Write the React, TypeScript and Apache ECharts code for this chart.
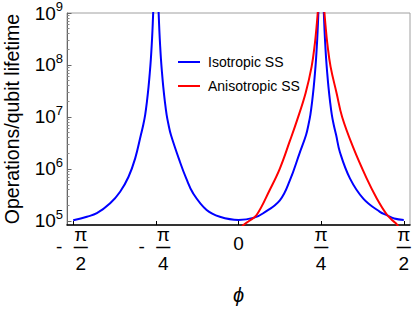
import React, { useEffect, useRef } from "react";
import * as echarts from "echarts";

const Q = Math.PI / 4;
const xTickValues = [-2 * Q, -Q, 0, Q, 2 * Q];
const xTickLabels = ["-π/2", "-π/4", "0", "π/4", "π/2"];
const yTickValues = [1e5, 1e6, 1e7, 1e8, 1e9];
const yTickExponents = ["5", "6", "7", "8", "9"];
const yMinorTickValues: number[] = [];
[1e5, 1e6, 1e7, 1e8].forEach((d) => {
  for (let m = 2; m <= 9; m++) yMinorTickValues.push(d * m);
});

const seriesNames = ["Isotropic SS", "Anisotropic SS"];

// Isotropic SS, three branches separated by the divergences at ±π/4
const isoLeft: [number, number][] = [
  [-1.5708, 1.03e5], [-1.441, 1.21e5], [-1.346, 1.41e5], [-1.22, 2.19e5],
  [-1.125, 3.66e5], [-1.045, 7.1e5], [-0.982, 1.6e6], [-0.928, 4.5e6],
  [-0.905, 7.1e6], [-0.887, 1.1e7], [-0.87, 2.0e7], [-0.855, 3.8e7],
  [-0.843, 7.1e7], [-0.833, 1.3e8], [-0.825, 2.4e8], [-0.818, 4.5e8],
  [-0.812, 8.9e8], [-0.807, 1.6e9], [-0.8, 5e9],
];
const isoCenter: [number, number][] = [
  [-0.77, 5e9], [-0.763, 1.6e9], [-0.758, 8.9e8], [-0.752, 4.5e8],
  [-0.745, 2.4e8], [-0.737, 1.3e8], [-0.727, 7.1e7], [-0.715, 3.8e7],
  [-0.7, 2.0e7], [-0.683, 1.1e7], [-0.665, 7.1e6], [-0.642, 4.5e6],
  [-0.557, 1.38e6], [-0.497, 6.6e5], [-0.431, 3.4e5], [-0.303, 1.63e5],
  [-0.177, 1.21e5], [0, 1.05e5], [0.15, 1.16e5], [0.235, 1.41e5],
  [0.393, 2.5e5], [0.489, 6.1e5], [0.58, 2.0e6], [0.642, 4.5e6],
  [0.665, 7.1e6], [0.683, 1.1e7], [0.7, 2.0e7], [0.715, 3.8e7],
  [0.727, 7.1e7], [0.737, 1.3e8], [0.745, 2.4e8], [0.752, 4.5e8],
  [0.758, 8.9e8], [0.763, 1.6e9], [0.77, 5e9],
];
const isoRight: [number, number][] = [
  [0.8, 5e9], [0.807, 1.6e9], [0.812, 8.9e8], [0.818, 4.5e8],
  [0.825, 2.4e8], [0.833, 1.3e8], [0.843, 7.1e7], [0.855, 3.8e7],
  [0.87, 2.0e7], [0.887, 1.1e7], [0.905, 7.1e6], [0.928, 4.5e6],
  [0.964, 2.1e6], [1.059, 6.6e5], [1.186, 2.7e5], [1.344, 1.5e5],
  [1.408, 1.3e5], [1.48, 1.12e5], [1.5708, 1.05e5],
];
// Anisotropic SS, two branches around π/4
const anisoLeft: [number, number][] = [
  [0.02, 7.0e4], [0.045, 8.3e4], [0.1, 1.0e5], [0.172, 1.3e5],
  [0.298, 4.0e5], [0.393, 1.02e6], [0.489, 3.5e6], [0.557, 8.7e6],
  [0.638, 2.9e7], [0.695, 9.3e7], [0.726, 2.6e8], [0.742, 5.5e8],
  [0.755, 1.15e9], [0.77, 5e9],
];
const anisoRight: [number, number][] = [
  [0.8, 5e9], [0.815, 1.15e9], [0.828, 5.5e8], [0.844, 2.6e8],
  [0.875, 9.3e7], [0.932, 2.9e7], [0.985, 1.0e7], [1.09, 2.6e6],
  [1.218, 6.6e5], [1.313, 2.75e5], [1.408, 1.35e5], [1.47, 1.0e5],
  [1.503, 8.7e4], [1.53, 7.0e4],
];

const FONT = "'Liberation Sans', Arial, sans-serif";
const BLUE = "#0000ff";
const RED = "#ff0000";

function xLabel(value: number): string {
  const i = xTickValues.findIndex((v) => Math.abs(v - value) < 1e-6);
  const s = i >= 0 ? xTickLabels[i] : "";
  if (s === "0") return "{zero|0}";
  const neg = s.startsWith("-");
  const [num, den] = s.replace("-", "").split("/");
  if (neg)
    return `{sp| }{num|${num}}{sp2| }\n{minus|-}{bar|—}{sp2| }\n{sp| }{den|${den}}{sp2| }`;
  return `{num|${num}}\n{bar|—}\n{den|${den}}`;
}

function yLabel(value: number): string {
  const i = yTickValues.findIndex((v) => Math.abs(v - value) / v < 1e-6);
  return i >= 0 ? `{b|10}{s|${yTickExponents[i]}}` : "";
}

function lineSeries(name: string, data: [number, number][], color: string) {
  return {
    type: "line",
    name,
    data,
    symbol: "none",
    smooth: 0.4,
    clip: true,
    lineStyle: { color, width: 2 },
    itemStyle: { color },
  };
}

export default function App() {
  const ref = useRef<HTMLDivElement>(null);
  useEffect(() => {
    document.body.style.margin = "0";
    const chart = echarts.init(ref.current!, null, { renderer: "svg" });
    const yMin = 83750;
    const yMax = 1e9;
    chart.setOption({
      animation: false,
      grid: {
        left: 67, right: 5, top: 13, bottom: 84,
        show: true, borderColor: "#a0a0a0", borderWidth: 1,
        containLabel: false, outerBoundsMode: "none",
      },
      legend: {
        orient: "vertical",
        left: 178,
        top: 55,
        padding: 0,
        itemWidth: 22,
        itemHeight: 2,
        itemGap: 10,
        icon: "rect",
        data: seriesNames,
        textStyle: { fontFamily: FONT, fontSize: 14, color: "#000", padding: [0, 0, 0, 3] },
      },
      xAxis: {
        type: "value",
        min: -1.63,
        max: 1.63,
        name: "ϕ",
        nameLocation: "middle",
        nameGap: 60,
        nameTextStyle: { fontFamily: FONT, fontSize: 20, fontStyle: "italic", color: "#000" },
        axisLine: { onZero: false, lineStyle: { color: "#000", width: 1.5 } },
        axisTick: { inside: true, length: 4, customValues: xTickValues, lineStyle: { color: "#000" } },
        splitLine: { show: false },
        axisLabel: {
          customValues: xTickValues,
          formatter: xLabel,
          margin: 0,
          color: "#000",
          fontFamily: FONT,
          rich: {
            num: { fontFamily: FONT, fontSize: 19, lineHeight: 18, align: "center", color: "#000" },
            den: { fontFamily: FONT, fontSize: 19, lineHeight: 36, align: "center", color: "#000" },
            bar: {
              fontFamily: FONT, fontSize: 13.5, lineHeight: 2, align: "left", color: "#000",
              textBorderColor: "#000", textBorderWidth: 0.5, padding: [5, 0, 0, 0],
            },
            minus: {
              fontFamily: FONT, fontSize: 19, lineHeight: 2, width: 18, align: "left", color: "#000",
              padding: [4, 0, 0, 0],
            },
            sp: { width: 18, lineHeight: 1, fontSize: 2, align: "left", color: "transparent" },
            sp2: { width: 3, lineHeight: 1, fontSize: 2, align: "right", color: "transparent" },
            zero: { fontFamily: FONT, fontSize: 19, lineHeight: 37, color: "#000" },
          },
        },
      },
      yAxis: [
        {
          type: "log",
          logBase: 10,
          min: yMin,
          max: yMax,
          name: "Operations/qubit lifetime",
          nameLocation: "middle",
          nameGap: 45,
          nameTextStyle: { fontFamily: FONT, fontSize: 19.5, color: "#000" },
          axisLine: { show: true, onZero: false, lineStyle: { color: "#666", width: 1 } },
          axisTick: { inside: true, length: 4.5, customValues: yTickValues, lineStyle: { color: "#666" } },
          splitLine: { show: false },
          minorTick: { show: false },
          axisLabel: {
            customValues: yTickValues,
            formatter: yLabel,
            margin: 4,
            color: "#000",
            rich: {
              b: { fontFamily: FONT, fontSize: 19, lineHeight: 26, color: "#000" },
              s: { fontFamily: FONT, fontSize: 13, verticalAlign: "top", color: "#000" },
            },
          },
        },
        {
          type: "log",
          logBase: 10,
          min: yMin,
          max: yMax,
          position: "left",
          axisLine: { show: false, onZero: false },
          axisTick: { show: true, inside: true, length: 2.5, customValues: yMinorTickValues, lineStyle: { color: "#888" } },
          axisLabel: { show: false },
          splitLine: { show: false },
        },
      ],
      series: [
        lineSeries(seriesNames[0], isoLeft, BLUE),
        lineSeries(seriesNames[0], isoCenter, BLUE),
        lineSeries(seriesNames[0], isoRight, BLUE),
        lineSeries(seriesNames[1], anisoLeft, RED),
        lineSeries(seriesNames[1], anisoRight, RED),
      ],
    });
    return () => chart.dispose();
  }, []);
  return <div ref={ref} style={{ width: 415, height: 309 }} />;
}
